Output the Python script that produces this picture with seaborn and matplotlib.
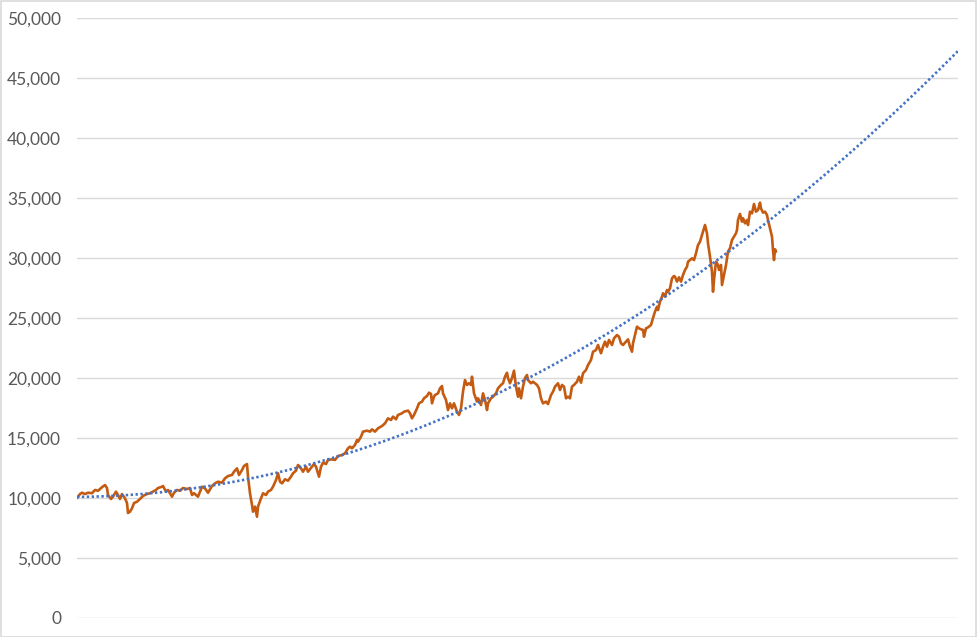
import numpy as np
import pandas as pd
import matplotlib
matplotlib.use("Agg")
import matplotlib.pyplot as plt
from matplotlib.ticker import FuncFormatter, MultipleLocator
from matplotlib.patches import Rectangle
import seaborn as sns

# observation index (periods since start) and portfolio value
period = [0, 3, 5, 8, 11, 15, 18, 21, 25, 28, 30, 31, 34, 36, 39, 41, 43, 45, 48, 50,
          51, 53, 55, 57, 60, 63, 66, 70, 73, 76, 79, 81, 85, 86, 89, 91, 95, 97, 100, 103,
          106, 110, 113, 115, 117, 121, 123, 125, 128, 131, 135, 138, 141, 145, 148, 151, 155, 157, 160, 162,
          165, 167, 170, 171, 173, 175, 176, 178, 180, 181, 184, 186, 189, 191, 194, 196, 199, 201, 203, 205,
          208, 211, 214, 216, 219, 221, 224, 226, 229, 231, 235, 237, 239, 240, 242, 244, 246, 249, 251, 255,
          258, 261, 265, 268, 271, 273, 275, 278, 280, 281, 284, 286, 290, 293, 295, 298, 301, 305, 308, 311,
          314, 316, 319, 321, 325, 327, 331, 333, 335, 337, 340, 342, 345, 347, 350, 352, 354, 355, 357, 358,
          361, 363, 365, 366, 369, 371, 373, 375, 377, 380, 382, 384, 386, 388, 390, 392, 394, 395, 397, 400,
          401, 404, 406, 408, 410, 411, 414, 416, 419, 421, 424, 426, 428, 430, 431, 433, 435, 437, 439, 441,
          442, 444, 446, 448, 450, 451, 454, 456, 460, 462, 464, 466, 469, 471, 474, 476, 478, 481, 483, 485,
          487, 489, 491, 493, 495, 497, 500, 502, 504, 506, 509, 511, 514, 516, 519, 521, 524, 526, 528, 530,
          532, 535, 537, 540, 542, 544, 546, 549, 551, 553, 555, 556, 558, 560, 562, 564, 566, 567, 569, 571,
          574, 576, 578, 580, 581, 583, 585, 586, 588, 590, 591, 593, 595, 597, 598, 600, 602, 604, 606, 608,
          610, 611, 613, 615, 617, 619, 621, 623, 625, 626, 628, 630, 631, 633, 635, 636, 637, 639, 641, 642,
          644, 645, 647, 649, 651, 653, 655, 657, 659, 660, 661, 663, 665, 666, 668, 670, 671, 673, 675, 677,
          679, 681, 683, 684, 686, 688, 690, 691, 693, 695, 696, 697, 698, 699]

value = [10000, 10330, 10440, 10330, 10440, 10400, 10670, 10600, 10900, 11080, 10830, 10250, 9920, 10110, 10530, 10250, 9920, 10330, 9970, 9580,
         8750, 8860, 9140, 9580, 9690, 9920, 10170, 10330, 10400, 10530, 10670, 10830, 10940, 11000, 10530, 10670, 10110, 10440, 10670, 10600,
         10830, 10750, 10830, 10250, 10400, 10110, 10530, 10940, 10800, 10440, 11000, 11220, 11360, 11280, 11640, 11830, 11920, 12190, 12470, 11920,
         12330, 12670, 12830, 11780, 10390, 9420, 8860, 9280, 8440, 9280, 9970, 10390, 10250, 10530, 10670, 10940, 11500, 12060, 11360, 11220,
         11560, 11440, 11780, 12060, 12280, 12750, 12470, 12190, 12610, 12190, 12610, 12830, 12610, 12330, 11780, 12610, 12940, 12830, 13170, 13220,
         13170, 13500, 13580, 13720, 14140, 14280, 14140, 14420, 14830, 14690, 15110, 15530, 15610, 15530, 15720, 15530, 15810, 16000, 16220, 16640,
         16500, 16780, 16560, 16920, 17060, 17190, 17280, 17060, 16640, 16920, 17470, 17890, 18030, 18310, 18500, 18780, 18670, 17890, 18440, 18580,
         18720, 19140, 19330, 18720, 18170, 17330, 17890, 17470, 17890, 17190, 16920, 17470, 18860, 19830, 19420, 19560, 19420, 20110, 18720, 18030,
         18310, 17750, 18720, 18170, 17330, 17890, 18310, 18440, 18720, 19140, 19420, 19560, 20110, 20440, 20000, 19560, 20000, 20610, 19280, 18440,
         19140, 18310, 19280, 20000, 20250, 19830, 19560, 19690, 19420, 19140, 18310, 17890, 18030, 17830, 18580, 18860, 19280, 19560, 19000, 19420,
         19280, 18310, 18440, 18310, 19280, 19420, 19690, 20110, 19610, 20390, 20670, 21080, 21500, 22190, 22330, 22750, 22060, 22610, 23030, 22610,
         23170, 22750, 23310, 23580, 23440, 22890, 22750, 23030, 23220, 22610, 22190, 22890, 23580, 24280, 24140, 24060, 24000, 23440, 24140, 24220,
         24420, 25000, 25530, 25940, 25670, 26360, 26780, 27060, 26780, 27330, 27190, 27470, 28310, 28500, 28440, 28030, 28390, 28030, 28580, 29000,
         29280, 29690, 29830, 29970, 29830, 30390, 31080, 31360, 31920, 32190, 32750, 32060, 31220, 30110, 28860, 27190, 28170, 29690, 29420, 29000,
         29420, 27750, 28580, 29420, 30530, 30810, 31500, 31780, 32060, 32330, 33170, 33670, 33030, 33310, 32890, 33170, 32750, 33860, 33720, 34500,
         33860, 34000, 34610, 34140, 33780, 33860, 33580, 33170, 32470, 31780, 30670, 29830, 30720, 30530]

forecast_end = 881
y_ticks = [0, 5000, 10000, 15000, 20000, 25000, 30000, 35000, 40000, 45000, 50000]

df = pd.DataFrame({"period": period, "value": value})

# polynomial (order 2) trendline with forward forecast
coef = np.polyfit(df["period"], df["value"], 2)
t = np.arange(0, forecast_end + 1)
trend = pd.DataFrame({"period": t, "value": np.polyval(coef, t)})

sns.set_theme(style="white")
plt.rcParams["font.family"] = ["Lato", "DejaVu Sans"]

W, H = 977, 637
fig = plt.figure(figsize=(W / 100, H / 100), dpi=100)
ax = fig.add_axes([77 / W, 1 - 618 / H, (958 - 77) / W, 600 / H])

sns.lineplot(data=trend, x="period", y="value", ax=ax, color="#4472C4",
             linewidth=1.9, linestyle=(0, (0.9, 0.95)), dash_capstyle="butt", zorder=3)
sns.lineplot(data=df, x="period", y="value", ax=ax, color="#C55A11",
             linewidth=1.9, zorder=2)

ax.set_xlim(0, forecast_end)
ax.set_ylim(0, 50000)
ax.set_yticks(y_ticks)
ax.yaxis.set_major_formatter(FuncFormatter(lambda v, p: f"{int(v):,}"))
ax.set_xticks([])
ax.set_xlabel("")
ax.set_ylabel("")
ax.grid(axis="y", color="#D9D9D9", linewidth=1.0)
ax.set_axisbelow(True)
for s in ax.spines.values():
    s.set_visible(False)
ax.tick_params(axis="y", length=0, pad=11.5, labelsize=12.5, labelcolor="#595959")

fig.patches.append(Rectangle((0.5 / W, 0.5 / H), 1 - 1.5 / W, 1 - 1.5 / H,
                             transform=fig.transFigure, fill=False,
                             edgecolor="#D9D9D9", linewidth=1.2))

fig.savefig("out.png", dpi=100)
